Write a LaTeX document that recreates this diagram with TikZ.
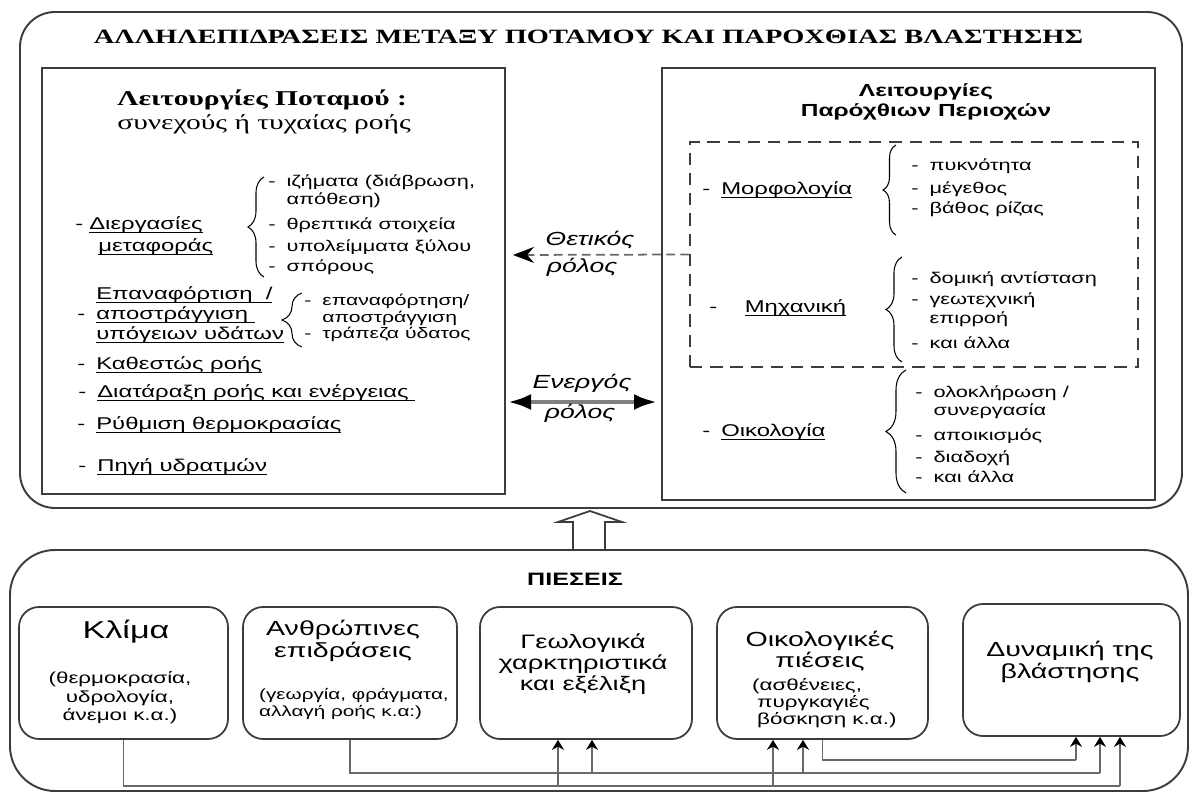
\documentclass[tikz,border=0pt]{standalone}
\usepackage{fontspec}
\setmainfont{Liberation Sans}[FakeStretch=1.4]
\newfontfamily\titlefont{Liberation Serif}[FakeStretch=1.4]
\definecolor{boxgray}{RGB}{60,60,60}
\definecolor{wiregray}{RGB}{105,105,105}
\usetikzlibrary{arrows.meta,positioning,decorations.pathreplacing}
\newcommand{\itemdash}{-\hspace{0.22cm}}
\newcommand{\itemgap}{\phantom{\itemdash}}
\newsavebox{\undlbox}
\newcommand{\undl}[1]{\sbox{\undlbox}{#1}\rlap{\rule[-1.8pt]{\wd\undlbox}{0.55pt}}\usebox{\undlbox}}
\setlength{\lineskiplimit}{-5pt}

\begin{document}
\begin{tikzpicture}[
  frame/.style={draw=boxgray,line width=1.1pt,rounded corners=0.7cm},
  panel/.style={draw=boxgray,line width=1.4pt,inner sep=0pt},
  press/.style={draw=boxgray,line width=1pt,rounded corners=0.4cm,inner sep=0pt,
                minimum width=4.2cm,minimum height=2.64cm},
  ttl/.style={font=\titlefont\bfseries\fontsize{11.55}{14}\selectfont},
  itm/.style={anchor=west,align=left,inner sep=0pt,font=\fontsize{9.7}{11.6}\selectfont},
  sub/.style={itm,font=\fontsize{8.85}{10}\selectfont},
  role/.style={font=\itshape\fontsize{10.8}{13}\selectfont},
  bighd/.style={align=center,font=\fontsize{11.6}{12.2}\selectfont},
  small/.style={align=center,font=\fontsize{9.1}{10.5}\selectfont},
  brc/.style={decorate,decoration={brace,amplitude=0.32cm},line width=0.6pt},
  bus/.style={wiregray,line width=0.9pt},
  tip/.style={wiregray,line width=0.9pt,-{Stealth[length=0.2cm,width=0.24cm,color=black]}}]
  \useasboundingbox (0,0) rectangle (23.86,-15.86);
  % pano plaisio
  \draw[frame] (0.4,-0.24) rectangle (23.64,-10.16);
  \node[ttl] (title) at (11.77,-0.74) {ΑΛΛΗΛΕΠΙΔΡΑΣΕΙΣ ΜΕΤΑΞΥ ΠΟΤΑΜΟΥ ΚΑΙ ΠΑΡΟΧΘΙΑΣ ΒΛΑΣΤΗΣΗΣ};
  \node[panel,minimum width=9.26cm,minimum height=8.52cm] (river) at (5.47,-5.62) {};
  \node[panel,minimum width=9.86cm,minimum height=8.64cm] (bank) at (18.17,-5.68) {};
  \node[draw=boxgray,line width=1pt,dash pattern=on 7pt off 4.5pt,inner sep=0pt,
        minimum width=8.96cm,minimum height=4.5cm] (physbox) at (18.28,-5.09) {};
  % potamos
  \node[itm,font=\titlefont\fontsize{12}{13.7}\selectfont] (rhead) at (2.34,-2.24)
    {\textbf{Λειτουργίες Ποταμού :}\\συνεχούς ή τυχαίας ροής};
  \node[itm,font=\fontsize{9.7}{12.5}\selectfont] (dierg) at (1.5,-4.72)
    {-\hspace{0.12cm}\undl{Διεργασίες}\\\hspace*{0.46cm}\undl{μεταφοράς}};
  \node[sub] (dierg-l) at (5.36,-4.5)
    {\itemdash ιζήματα (διάβρωση,\\\itemgap απόθεση)\\[4.2pt]\itemdash θρεπτικά στοιχεία\\[2.5pt]\itemdash υπολείμματα ξύλου\\[1.4pt]\itemdash σπόρους};
  \node[itm,font=\fontsize{9.7}{11.2}\selectfont] (epan) at (1.54,-6.3)
    {\itemgap\undl{Επαναφόρτιση~~/}\\\itemdash\undl{αποστράγγιση~}\\\itemgap\undl{υπόγειων υδάτων}};
  \node[sub,font=\fontsize{8.6}{9.6}\selectfont] (epan-l) at (6.08,-6.36)
    {\itemdash επαναφόρτηση/\\\itemgap αποστράγγιση\\\itemdash τράπεζα ύδατος};
  \node[itm] (kath) at (1.54,-7.3) {\itemdash\undl{Καθεστώς ροής}};
  \node[itm] (diat) at (1.56,-7.86) {\itemdash\undl{Διατάραξη ροής και ενέργειας~}};
  \node[itm] (rythm) at (1.54,-8.5) {\itemdash\undl{Ρύθμιση θερμοκρασίας}};
  \node[itm] (pigi) at (1.56,-9.34) {\itemdash\undl{Πηγή υδρατμών}};
  \draw[brc] (5.28,-5.54) -- (5.28,-3.54);
  \draw[brc,decoration={amplitude=0.4cm}] (6.04,-6.94) -- (6.04,-5.86);
  % parochthia
  \node[align=center,font=\bfseries\fontsize{9.95}{11.4}\selectfont] (phead) at (18.52,-2.04)
    {Λειτουργίες\\Παρόχθιων Περιοχών};
  \node[itm] (morf) at (14.04,-3.8) {\itemdash\undl{Μορφολογία}};
  \node[itm] (mixan) at (14.18,-6.16) {-\hspace{0.55cm}\undl{Μηχανική}};
  \node[itm] (oikol) at (14.04,-8.64) {\itemdash\undl{Οικολογία}};
  \node[sub] (morf-l) at (18.22,-3.76)
    {\itemdash πυκνότητα\\[3.1pt]\itemdash μέγεθος\\[1.4pt]\itemdash βάθος ρίζας};
  \node[sub] (mixan-l) at (18.22,-6.2)
    {\itemdash δομική αντίσταση\\[2pt]\itemdash γεωτεχνική\\[0.8pt]\itemgap επιρροή\\[4.2pt]\itemdash και άλλα};
  \node[sub] (oikol-l) at (18.3,-8.68)
    {\itemdash ολοκλήρωση /\\[0.2pt]\itemgap συνεργασία\\[4.2pt]\itemdash αποικισμός\\[2.5pt]\itemdash διαδοχή\\[1.4pt]\itemdash και άλλα};
  \draw[brc,decoration={amplitude=0.26cm}] (17.92,-4.7) -- (17.92,-2.9);
  \draw[brc] (18.04,-7.24) -- (18.04,-5.14);
  \draw[brc,decoration={amplitude=0.4cm}] (18.12,-9.86) -- (18.12,-7.4);
  % roloi
  \coordinate (pos-end) at (10.26,-5.1);
  \coordinate (act-l) at (10.16,-8.04);
  \coordinate (act-r) at (13.14,-8.04);
  \draw[wiregray,line width=1pt,dash pattern=on 5pt off 3pt,
        -{Stealth[length=0.42cm,width=0.32cm,color=black]}] (physbox.west) -- (pos-end);
  \draw[gray,line width=2.4pt,{Latex[length=0.46cm,width=0.32cm,color=black]}-{Latex[length=0.46cm,width=0.32cm,color=black]}]
    (act-l) -- (act-r);
  \node[role] (pos-a) at (11.8,-4.8) {Θετικός};
  \node[role] (pos-b) at (11.64,-5.34) {ρόλος};
  \node[role] (act-a) at (11.64,-7.66) {Ενεργός};
  \node[role] (act-b) at (11.6,-8.26) {ρόλος};
  % koilo velos
  \draw[draw=boxgray,line width=1pt,fill=white] (11.46,-11.0) -- (11.46,-10.44) -- (11.16,-10.44)
    -- (11.8,-10.22) -- (12.44,-10.44) -- (12.1,-10.44) -- (12.1,-11.0);
  % piesis
  \draw[frame,rounded corners=0.9cm] (0.2,-11.0) rectangle (23.76,-15.82);
  \node[font=\bfseries\fontsize{10.2}{13}\selectfont] (piesh) at (11.5,-11.58) {ΠΙΕΣΕΙΣ};
  \node[press,minimum width=4.18cm] (klima) at (2.47,-13.46) {};
  \node[press,minimum width=4.28cm] (anthr) at (7.0,-13.46) {};
  \node[press,minimum width=4.24cm] (geol) at (11.72,-13.46) {};
  \node[press,minimum width=4.22cm] (oikp) at (16.45,-13.46) {};
  \node[press,minimum width=4.34cm] (dynam) at (21.43,-13.4) {};
  \node[font=\fontsize{13.9}{16}\selectfont] (klima-t) at (2.52,-12.64) {Κλίμα};
  \node[small] (klima-s) at (2.4,-13.96) {(θερμοκρασία,\\υδρολογία,\\άνεμοι κ.α.)};
  \node[bighd] (anthr-t) at (6.86,-12.82) {Ανθρώπινες\\επιδράσεις};
  \node[small,anchor=west,align=left,font=\fontsize{8.4}{10.2}\selectfont] (anthr-s) at (5.06,-14.08)
    {(γεωργία, φράγματα,\\αλλαγή ροής κ.α:)};
  \node[bighd,font=\fontsize{11.1}{11.8}\selectfont] (geol-t) at (11.66,-13.28) {Γεωλογικά\\χαρκτηριστικά\\και εξέλιξη};
  \node[bighd] (oikp-t) at (16.4,-13.02) {Οικολογικές\\πιέσεις};
  \node[small,anchor=west,align=left,font=\fontsize{9.1}{9.6}\selectfont] (oikp-s) at (14.92,-14.06)
    {(ασθένειες,\\\hspace*{0.1cm}πυργκαγιές\\\hspace*{0.1cm}βόσκηση κ.α.)};
  \node[bighd] (dynam-t) at (21.4,-13.24) {Δυναμική της\\βλάστησης};
  % syndeseis
  \coordinate (ga) at (11.16,-15.72);
  \coordinate (gb) at (11.84,-15.46);
  \coordinate (oa) at (15.46,-15.72);
  \coordinate (ob) at (16.06,-15.46);
  \coordinate (da) at (22.4,-15.72);
  \coordinate (db) at (22.0,-15.46);
  \coordinate (dc) at (21.52,-15.2);
  \draw[bus] (klima.south) |- (da);
  \draw[bus] (anthr.south) |- (db);
  \draw[bus] (oikp.south) |- (dc);
  \foreach \c/\n in {ga/geol,gb/geol,oa/oikp,ob/oikp,da/dynam,db/dynam,dc/dynam}
    \draw[tip] (\c) -- (\c |- \n.south);
\end{tikzpicture}
\end{document}
